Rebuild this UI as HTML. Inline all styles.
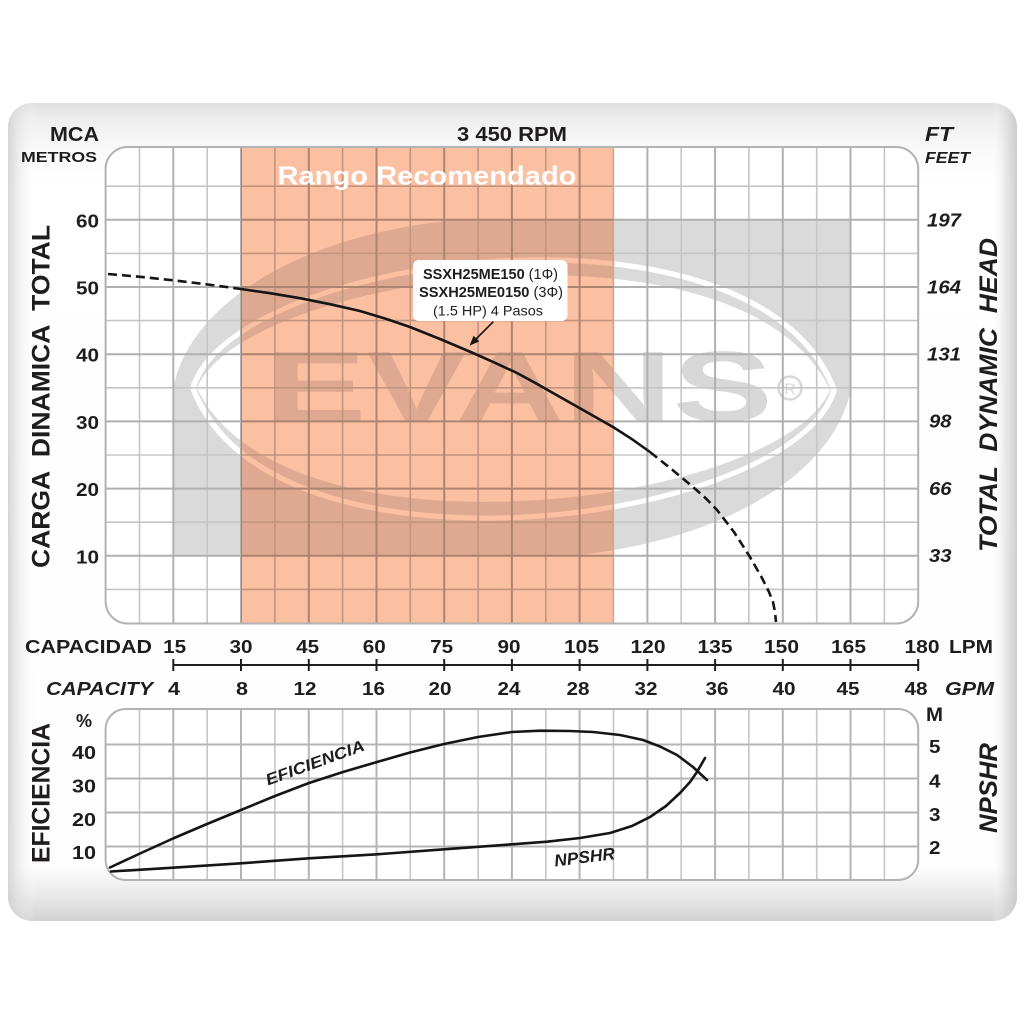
<!DOCTYPE html>
<html>
<head>
<meta charset="utf-8">
<style>
  html,body{margin:0;padding:0;background:#ffffff;}
  body{width:1024px;height:1024px;overflow:hidden;}
  svg{display:block;}
  text{font-family:"Liberation Sans", Arial, sans-serif;fill:#1f1c1d;font-weight:bold;}
  .it{font-style:italic;}
</style>
</head>
<body>
<svg width="1024" height="1024" viewBox="0 0 1024 1024" xmlns="http://www.w3.org/2000/svg">
  <defs>
    <linearGradient id="vg" x1="0" y1="0" x2="0" y2="1">
      <stop offset="0" stop-color="#e0e0e0"/>
      <stop offset="0.02" stop-color="#eeeeee"/>
      <stop offset="0.055" stop-color="#f9f9f9"/>
      <stop offset="0.10" stop-color="#ffffff"/>
      <stop offset="0.935" stop-color="#fdfdfd"/>
      <stop offset="0.97" stop-color="#e8e8e8"/>
      <stop offset="1" stop-color="#d2d2d2"/>
    </linearGradient>
    <linearGradient id="hg" x1="0" y1="0" x2="1" y2="0">
      <stop offset="0" stop-color="#cfcfcf" stop-opacity="0.85"/>
      <stop offset="0.012" stop-color="#dedede" stop-opacity="0.4"/>
      <stop offset="0.028" stop-color="#ffffff" stop-opacity="0"/>
      <stop offset="0.975" stop-color="#ffffff" stop-opacity="0"/>
      <stop offset="0.988" stop-color="#d6d6d6" stop-opacity="0.5"/>
      <stop offset="1" stop-color="#c6c6c6" stop-opacity="0.9"/>
    </linearGradient>
    <clipPath id="mainClip"><rect x="105.6" y="147" width="812.6" height="476.5" rx="22"/></clipPath>
    <clipPath id="botClip"><rect x="105.6" y="709" width="812.6" height="171" rx="20"/></clipPath>
    <clipPath id="wmClip"><rect x="173.3" y="219.8" width="677.2" height="336"/></clipPath>
    <clipPath id="wmSalClip"><rect x="241" y="219.8" width="372.5" height="336"/></clipPath>
  </defs>

  <!-- outer panel -->
  <rect x="8" y="103" width="1009" height="818" rx="24" fill="url(#vg)"/>
  <rect x="8" y="103" width="1009" height="818" rx="24" fill="url(#hg)"/>

  <!-- ============ MAIN CHART ============ -->
  <rect x="105.6" y="147" width="812.6" height="476.5" rx="22" fill="#ffffff"/>
  <g clip-path="url(#mainClip)">
    <!-- watermark -->
    <g clip-path="url(#wmClip)">
      <path d="M173.3,557 L173.3,388 C190,300 310,230 470,219 L851,219 L851,388 C835,476 715,546 555,557 Z" fill="#dadada"/>
      <path d="M190,388 C230,250 760,180 837,390 C797,528 267,598 190,388 Z" fill="#ffffff"/>
      <path d="M196,388 C236,256 754,188 831,390 C791,522 273,590 196,388 Z" fill="#dadada"/>
      <path d="M197,388 C246,272 744,206 830,390 C781,506 283,570 197,388 Z" fill="#ffffff"/>
      <text x="266" y="421" font-size="100" textLength="507" lengthAdjust="spacingAndGlyphs" style="fill:#d8d8d8">EVANS</text>
      <circle cx="790" cy="388" r="11.5" fill="none" stroke="#d8d8d8" stroke-width="2.5"/>
      <text x="790" y="394.5" font-size="16" text-anchor="middle" style="fill:#d8d8d8;font-weight:normal">R</text>
    </g>
    <!-- lighter watermark copy inside salmon band -->
    <g clip-path="url(#wmSalClip)">
      <rect x="241" y="219.8" width="372.5" height="336" fill="#ffffff"/>
      <path d="M173.3,557 L173.3,388 C190,300 310,230 470,219 L851,219 L851,388 C835,476 715,546 555,557 Z" fill="#e2e2e2"/>
      <path d="M190,388 C230,250 760,180 837,390 C797,528 267,598 190,388 Z" fill="#ffffff"/>
      <path d="M196,388 C236,256 754,188 831,390 C791,522 273,590 196,388 Z" fill="#e2e2e2"/>
      <path d="M197,388 C246,272 744,206 830,390 C781,506 283,570 197,388 Z" fill="#ffffff"/>
      <text x="266" y="421" font-size="100" textLength="507" lengthAdjust="spacingAndGlyphs" style="fill:#e2e2e2">EVANS</text>
    </g>

    <!-- grid minor -->
    <path fill="none" stroke="#c6c6c6" stroke-width="1.6"
      d="M139.5 147V624 M207.2 147V624 M274.9 147V624 M342.6 147V624 M410.3 147V624 M478.1 147V624 M545.8 147V624 M613.5 147V624 M681.2 147V624 M748.9 147V624 M816.7 147V624 M884.4 147V624
         M105 589.4H919 M105 522.2H919 M105 455H919 M105 387.8H919 M105 320.6H919 M105 253.4H919 M105 186.2H919"/>
    <!-- grid major -->
    <path fill="none" stroke="#b0b0b0" stroke-width="2"
      d="M173.3 147V624 M241 147V624 M308.8 147V624 M376.5 147V624 M444.2 147V624 M511.9 147V624 M579.6 147V624 M647.4 147V624 M715.1 147V624 M782.8 147V624 M850.5 147V624
         M105 555.8H919 M105 488.6H919 M105 421.4H919 M105 354.2H919 M105 287H919 M105 219.8H919"/>

    <!-- recommended range -->
    <rect x="241" y="146" width="372.5" height="478" fill="#fbbfa2" style="mix-blend-mode:multiply"/>
  </g>
  <rect x="105.6" y="147" width="812.6" height="476.5" rx="22" fill="none" stroke="#b2b2b2" stroke-width="2"/>

  <text x="427" y="184.3" font-size="26" text-anchor="middle" textLength="299" lengthAdjust="spacingAndGlyphs" style="fill:#ffffff">Rango Recomendado</text>

  <!-- head curve -->
  <polyline fill="none" stroke="#151515" stroke-width="2.6" stroke-dasharray="9 5"
    points="108,274 140,276.8 175,280.5 208,284.5 241,289"/>
  <polyline fill="none" stroke="#151515" stroke-width="2.6" stroke-linejoin="round"
    points="241,289 270,293.2 300,298.2 330,304.2 360,311 385,318.5 410,327 440,339 473,353 495,362.8 517,373 535,382.8 553,393 568,401.5 583,410 598,418.5 613,427 632,439.2 650,452"/>
  <polyline fill="none" stroke="#151515" stroke-width="2.6" stroke-dasharray="9 5" stroke-linejoin="round"
    points="650,452 672,469.5 693,487 706,498.5 717,510 734,532 750,557 762,578 769,592 773,602 775,612 776,622"/>

  <!-- annotation -->
  <rect x="413" y="260" width="154.5" height="61" rx="6" fill="#ffffff"/>
  <text x="490.5" y="279" font-size="14.5" text-anchor="middle" textLength="135" lengthAdjust="spacingAndGlyphs">SSXH25ME150<tspan style="font-weight:normal"> (1Φ)</tspan></text>
  <text x="491" y="297" font-size="14.5" text-anchor="middle" textLength="144" lengthAdjust="spacingAndGlyphs">SSXH25ME0150<tspan style="font-weight:normal"> (3Φ)</tspan></text>
  <text x="488" y="315.5" font-size="14" text-anchor="middle" textLength="110" lengthAdjust="spacingAndGlyphs" style="font-weight:normal">(1.5 HP) 4 Pasos</text>
  <line x1="493.3" y1="321.7" x2="475" y2="340" stroke="#151515" stroke-width="1.6"/>
  <polygon points="469.5,345.8 479.2,341.4 473.6,335.8" fill="#151515"/>

  <!-- top labels -->
  <text x="99" y="141" font-size="20" text-anchor="end" textLength="49" lengthAdjust="spacingAndGlyphs">MCA</text>
  <text x="97" y="162" font-size="15" text-anchor="end" textLength="76" lengthAdjust="spacingAndGlyphs">METROS</text>
  <text x="512" y="141" font-size="20" text-anchor="middle" textLength="110" lengthAdjust="spacingAndGlyphs">3 450 RPM</text>
  <text class="it" x="925" y="141" font-size="20" textLength="28" lengthAdjust="spacingAndGlyphs">FT</text>
  <text class="it" x="925" y="163" font-size="16" textLength="45" lengthAdjust="spacingAndGlyphs">FEET</text>

  <!-- left numbers -->
  <g font-size="18.5" text-anchor="end">
    <text x="99" y="227.3" textLength="23" lengthAdjust="spacingAndGlyphs">60</text>
    <text x="99" y="294.5" textLength="23" lengthAdjust="spacingAndGlyphs">50</text>
    <text x="99" y="361.7" textLength="23" lengthAdjust="spacingAndGlyphs">40</text>
    <text x="99" y="428.9" textLength="23" lengthAdjust="spacingAndGlyphs">30</text>
    <text x="99" y="496.1" textLength="23" lengthAdjust="spacingAndGlyphs">20</text>
    <text x="99" y="563.3" textLength="23" lengthAdjust="spacingAndGlyphs">10</text>
  </g>
  <!-- right numbers -->
  <g font-size="18.5">
    <text class="it" x="927" y="226.7" textLength="34" lengthAdjust="spacingAndGlyphs">197</text>
    <text class="it" x="927" y="293.3" textLength="34" lengthAdjust="spacingAndGlyphs">164</text>
    <text class="it" x="927" y="360.5" textLength="34" lengthAdjust="spacingAndGlyphs">131</text>
    <text class="it" x="929" y="427.7" textLength="22.5" lengthAdjust="spacingAndGlyphs">98</text>
    <text class="it" x="929" y="494.9" textLength="22.5" lengthAdjust="spacingAndGlyphs">66</text>
    <text class="it" x="929" y="562.1" textLength="22.5" lengthAdjust="spacingAndGlyphs">33</text>
  </g>

  <!-- rotated axis titles -->
  <text transform="translate(49.5,396.5) rotate(-90)" font-size="25" text-anchor="middle" textLength="343" lengthAdjust="spacingAndGlyphs" xml:space="preserve">CARGA  DINAMICA  TOTAL</text>
  <text class="it" transform="translate(997,395) rotate(-90)" font-size="25" text-anchor="middle" textLength="314" lengthAdjust="spacingAndGlyphs" xml:space="preserve">TOTAL  DYNAMIC  HEAD</text>

  <!-- ============ CAPACITY AXIS ============ -->
  <path fill="none" stroke="#1f1c1d" stroke-width="2"
    d="M173.3 665H918.2 M173.3 659V671 M241 659V671 M308.8 659V671 M376.5 659V671 M444.2 659V671 M511.9 659V671 M579.6 659V671 M647.4 659V671 M715.1 659V671 M782.8 659V671 M850.5 659V671 M918.2 659V671"/>
  <g font-size="18.5" text-anchor="middle">
    <text x="174.7" y="653" textLength="23" lengthAdjust="spacingAndGlyphs">15</text>
    <text x="241" y="653" textLength="23" lengthAdjust="spacingAndGlyphs">30</text>
    <text x="307.7" y="653" textLength="23" lengthAdjust="spacingAndGlyphs">45</text>
    <text x="374.3" y="653" textLength="23" lengthAdjust="spacingAndGlyphs">60</text>
    <text x="441.7" y="653" textLength="23" lengthAdjust="spacingAndGlyphs">75</text>
    <text x="509" y="653" textLength="23" lengthAdjust="spacingAndGlyphs">90</text>
    <text x="581.5" y="653" textLength="35" lengthAdjust="spacingAndGlyphs">105</text>
    <text x="648" y="653" textLength="35" lengthAdjust="spacingAndGlyphs">120</text>
    <text x="715" y="653" textLength="35" lengthAdjust="spacingAndGlyphs">135</text>
    <text x="781.5" y="653" textLength="35" lengthAdjust="spacingAndGlyphs">150</text>
    <text x="848.5" y="653" textLength="35" lengthAdjust="spacingAndGlyphs">165</text>
    <text x="922" y="653" textLength="35" lengthAdjust="spacingAndGlyphs">180</text>

    <text x="174" y="695" textLength="12" lengthAdjust="spacingAndGlyphs">4</text>
    <text x="242" y="695" textLength="12" lengthAdjust="spacingAndGlyphs">8</text>
    <text x="305" y="695" textLength="23" lengthAdjust="spacingAndGlyphs">12</text>
    <text x="373.5" y="695" textLength="23" lengthAdjust="spacingAndGlyphs">16</text>
    <text x="440" y="695" textLength="23" lengthAdjust="spacingAndGlyphs">20</text>
    <text x="509" y="695" textLength="23" lengthAdjust="spacingAndGlyphs">24</text>
    <text x="578" y="695" textLength="23" lengthAdjust="spacingAndGlyphs">28</text>
    <text x="646" y="695" textLength="23" lengthAdjust="spacingAndGlyphs">32</text>
    <text x="717" y="695" textLength="23" lengthAdjust="spacingAndGlyphs">36</text>
    <text x="784" y="695" textLength="23" lengthAdjust="spacingAndGlyphs">40</text>
    <text x="848" y="695" textLength="23" lengthAdjust="spacingAndGlyphs">45</text>
    <text x="916" y="695" textLength="23" lengthAdjust="spacingAndGlyphs">48</text>
  </g>
  <text x="25" y="653" font-size="18.5" textLength="127" lengthAdjust="spacingAndGlyphs">CAPACIDAD</text>
  <text x="949" y="653" font-size="18.5" textLength="44" lengthAdjust="spacingAndGlyphs">LPM</text>
  <text class="it" x="46" y="695" font-size="18.5" textLength="107" lengthAdjust="spacingAndGlyphs">CAPACITY</text>
  <text class="it" x="945" y="695" font-size="18.5" textLength="49" lengthAdjust="spacingAndGlyphs">GPM</text>

  <!-- ============ BOTTOM CHART ============ -->
  <rect x="105.6" y="709" width="812.6" height="171" rx="20" fill="#ffffff"/>
  <g clip-path="url(#botClip)">
    <path fill="none" stroke="#c6c6c6" stroke-width="1.6"
      d="M139.5 708V881 M207.2 708V881 M274.9 708V881 M342.6 708V881 M410.3 708V881 M478.1 708V881 M545.8 708V881 M613.5 708V881 M681.2 708V881 M748.9 708V881 M816.7 708V881 M884.4 708V881"/>
    <path fill="none" stroke="#b4b4b4" stroke-width="2"
      d="M173.3 708V881 M241 708V881 M308.8 708V881 M376.5 708V881 M444.2 708V881 M511.9 708V881 M579.6 708V881 M647.4 708V881 M715.1 708V881 M782.8 708V881 M850.5 708V881
         M105 744.5H919 M105 778.5H919 M105 812.5H919 M105 846.5H919"/>
  </g>
  <rect x="105.6" y="709" width="812.6" height="171" rx="20" fill="none" stroke="#b2b2b2" stroke-width="2"/>

  <!-- efficiency -->
  <polyline fill="none" stroke="#151515" stroke-width="2.6" stroke-linejoin="round" stroke-linecap="round"
    points="110,867.5 140,853.5 173,838.5 207,824 241,810 275,796 309,783 343,772 377,762 410,752.5 444,744 478,737 512,732 540,730.7 570,731 593,732 620,735 643,740 660,746.5 677,755 693,767 707,780"/>
  <!-- NPSHR -->
  <polyline fill="none" stroke="#151515" stroke-width="2.6" stroke-linejoin="round" stroke-linecap="round"
    points="111,871.5 173,867.7 241,863.3 309,858.3 377,854.3 444,849.3 512,844.3 547,841.7 580,838 610,833 632,826 650,817 666,806 680,793 690,782 697,772 705,758"/>

  <text class="it" transform="translate(268,785.5) rotate(-20)" font-size="16" textLength="104" lengthAdjust="spacingAndGlyphs">EFICIENCIA</text>
  <text class="it" transform="translate(555,866.5) rotate(-7)" font-size="17" textLength="61" lengthAdjust="spacingAndGlyphs">NPSHR</text>

  <!-- bottom left labels -->
  <text x="84" y="727" font-size="18" text-anchor="middle">%</text>
  <g font-size="18.5" text-anchor="end">
    <text x="96" y="759" textLength="24" lengthAdjust="spacingAndGlyphs">40</text>
    <text x="96" y="792.5" textLength="24" lengthAdjust="spacingAndGlyphs">30</text>
    <text x="96" y="826" textLength="24" lengthAdjust="spacingAndGlyphs">20</text>
    <text x="96" y="859" textLength="24" lengthAdjust="spacingAndGlyphs">10</text>
  </g>
  <text transform="translate(49.3,793) rotate(-90)" font-size="25" text-anchor="middle" textLength="140" lengthAdjust="spacingAndGlyphs">EFICIENCIA</text>

  <!-- bottom right labels -->
  <text x="926" y="721" font-size="19" textLength="17" lengthAdjust="spacingAndGlyphs">M</text>
  <g font-size="18.5">
    <text x="929" y="753" textLength="11.5" lengthAdjust="spacingAndGlyphs">5</text>
    <text x="929" y="787.5" textLength="11.5" lengthAdjust="spacingAndGlyphs">4</text>
    <text x="929" y="821" textLength="11.5" lengthAdjust="spacingAndGlyphs">3</text>
    <text x="929" y="854" textLength="11.5" lengthAdjust="spacingAndGlyphs">2</text>
  </g>
  <text class="it" transform="translate(997,788) rotate(-90)" font-size="25" text-anchor="middle" textLength="90" lengthAdjust="spacingAndGlyphs">NPSHR</text>
</svg>
</body>
</html>
